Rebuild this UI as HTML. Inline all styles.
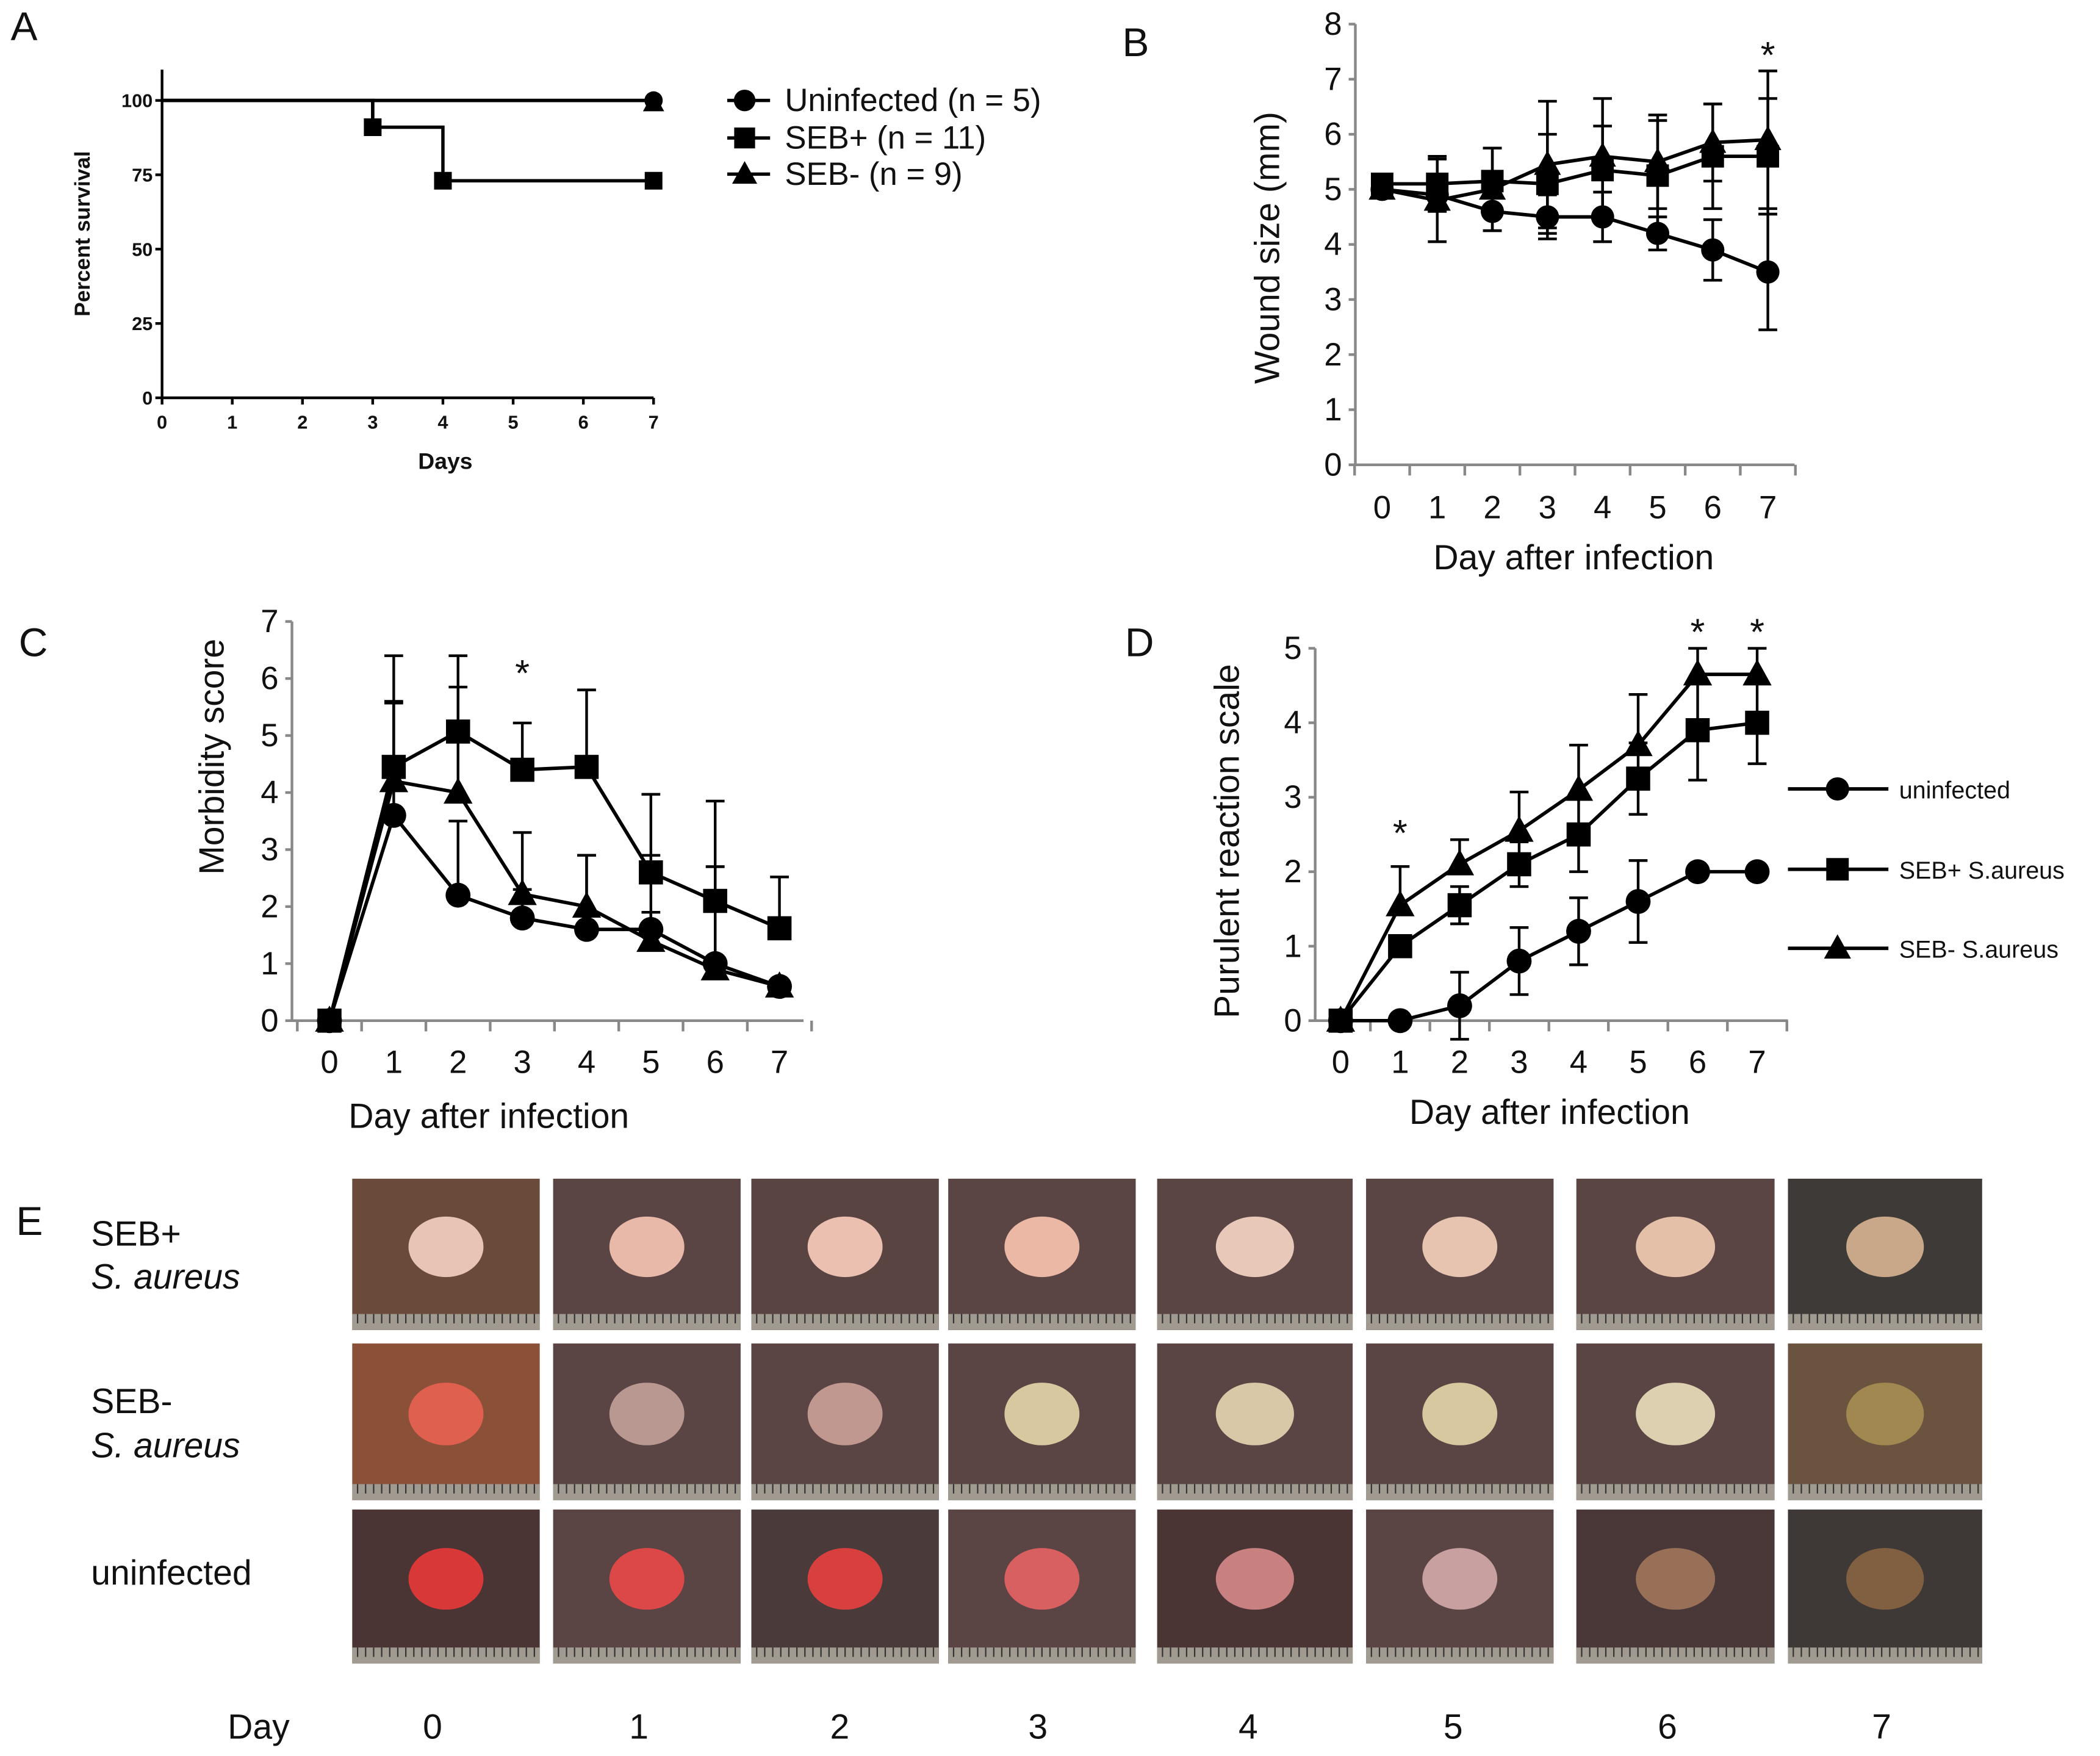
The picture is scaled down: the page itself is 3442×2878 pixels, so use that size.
<!DOCTYPE html>
<html><head><meta charset="utf-8"><style>
html,body{margin:0;padding:0;background:#fff}
svg{display:block}
text{font-family:"Liberation Sans",sans-serif;fill:#111}
</style></head><body>
<svg id="fig" width="3442" height="2878" viewBox="0 0 1568 1311" preserveAspectRatio="none" xmlns="http://www.w3.org/2000/svg">
<text x="8" y="30" font-size="30">A</text>
<text x="838" y="42" font-size="30">B</text>
<text x="14" y="490" font-size="30">C</text>
<text x="840" y="490" font-size="30">D</text>
<text x="12" y="922" font-size="30">E</text>
<g id="gA"></g>
<g id="gB"></g>
<g id="gC"></g>
<g id="gD"></g>
<g id="gE"></g>
</svg>
<script>
// ---- Data ----
const days = [0,1,2,3,4,5,6,7];
// Panel A survival (step curves)
const survDays = [0,3,4,7];
const survSEBplus = [100,91,73,73];
const survUninf = [100,100,100,100];
const survSEBminus = [100,100,100,100];
const survTicksY = [0,25,50,75,100];
// Panel B wound size
const woundUninf = [5.0,4.9,4.6,4.5,4.5,4.2,3.9,3.5];
const woundUninfErr = [0.1,0.3,0.35,0.4,0.45,0.3,0.55,1.05];
const woundSEBplus = [5.1,5.1,5.15,5.1,5.35,5.25,5.6,5.6];
const woundSEBplusErr = [0.1,0.5,0.6,0.9,0.8,1.0,0.95,1.05];
const woundSEBminus = [5.0,4.8,5.0,5.45,5.6,5.5,5.85,5.9];
const woundSEBminusErr = [0.1,0.75,0.75,1.15,1.05,0.85,0.7,1.25];
const woundTicksY = [0,1,2,3,4,5,6,7,8];
// Panel C morbidity
const morbUninf = [0,3.6,2.2,1.8,1.6,1.6,1.0,0.6];
const morbUninfErr = [0,2.0,1.3,0.5,1.3,1.3,1.7,0];
const morbSEBplus = [0,4.45,5.07,4.4,4.45,2.6,2.1,1.62];
const morbSEBplusErr = [0,1.95,1.33,0.82,1.35,1.37,1.75,0.9];
const morbSEBminus = [0,4.2,4.0,2.22,2.0,1.4,0.9,0.6];
const morbSEBminusErr = [0,1.37,1.85,1.08,0.9,0.5,1.8,0];
const morbTicksY = [0,1,2,3,4,5,6,7];
// Panel D purulent
const purUninf = [0,0,0.2,0.8,1.2,1.6,2.0,2.0];
const purUninfErr = [0,0,0.45,0.45,0.45,0.55,0,0];
const purSEBplus = [0,1.0,1.55,2.1,2.5,3.25,3.9,4.0];
const purSEBplusErr = [0,0,0.25,0.3,0.5,0.48,0.67,0.55];
const purSEBminus = [0,1.55,2.1,2.55,3.1,3.7,4.65,4.65];
const purSEBminusErr = [0,0.52,0.33,0.52,0.6,0.68,0.35,0.35];
const purTicksY = [0,1,2,3,4,5];

const NS="http://www.w3.org/2000/svg";
function mk(parent,tag,attrs,txt){const e=document.createElementNS(NS,tag);for(const k in attrs)e.setAttribute(k,attrs[k]);if(txt!==undefined)e.textContent=txt;parent.appendChild(e);return e;}
function marker(g,type,x,y,s){
  let e;
  if(type==='circle'){e=mk(g,'circle',{cx:x,cy:y,r:s*0.62,fill:'#000'});}
  else if(type==='square'){e=mk(g,'rect',{x:x-s*0.6,y:y-s*0.6,width:s*1.2,height:s*1.2,fill:'#000'});}
  else {e=mk(g,'polygon',{points:`${x},${y-s*0.75} ${x-s*0.72},${y+s*0.55} ${x+s*0.72},${y+s*0.55}`,fill:'#000'});}
  return e;
}

// ---- Panel A ----
(function(){
  const g=document.getElementById('gA');
  const x0=121,x7=488,y0=297,y100=75;
  const sx=d=>x0+(x7-x0)*d/7, sy=v=>y0-(y0-y100)*v/100;
  const ax=mk(g,'path',{d:`M${x0},52 V${y0} H${x7}`,stroke:'#000','stroke-width':2,fill:'none'});
  
  
  survTicksY.forEach(v=>{
    mk(g,'line',{x1:x0-5,x2:x0,y1:sy(v),y2:sy(v),stroke:'#000','stroke-width':2});
    const t=mk(g,'text',{x:x0-7,y:sy(v)+5,'font-size':14,'text-anchor':'end','font-weight':'bold'},v);
    
    
  });
  days.forEach(d=>{
    mk(g,'line',{x1:sx(d),x2:sx(d),y1:y0,y2:y0+5,stroke:'#000','stroke-width':2});
    const t=mk(g,'text',{x:sx(d),y:y0+23,'font-size':14,'text-anchor':'middle','font-weight':'bold'},d);
    
    
  });
  const yt=mk(g,'text',{x:0,y:0,'font-size':16,'font-weight':'bold','text-anchor':'middle',transform:`translate(67,${(y0+52)/2}) rotate(-90)`},'Percent survival');
  
  
  const xt=mk(g,'text',{x:(x0+x7)/2+28,y:350,'font-size':17,'font-weight':'bold','text-anchor':'middle'},'Days');
  
  
  function step(vals){let d=`M${sx(survDays[0])},${sy(vals[0])}`;for(let i=1;i<vals.length;i++){d+=` H${sx(survDays[i])} V${sy(vals[i])}`;}return d;}
  const l1=mk(g,'path',{d:step(survUninf),stroke:'#000','stroke-width':2.5,fill:'none'});
  
  
  const l3=mk(g,'path',{d:step(survSEBminus),stroke:'#000','stroke-width':2.5,fill:'none'});
  
  
  const l2=mk(g,'path',{d:step(survSEBplus),stroke:'#000','stroke-width':2.5,fill:'none'});
  
  
  mk(g,'line',{x1:sx(3),x2:sx(3),y1:sy(100),y2:sy(91),stroke:'#000','stroke-width':2.5});
  for(let i=1;i<survDays.length;i++){
    if(survSEBplus[i]!==survSEBplus[i-1]||i===survDays.length-1){const m=marker(g,'square',sx(survDays[i]),sy(survSEBplus[i]),11);}
  }
  const last=survDays.length-1;
  const mt=marker(g,'triangle',sx(survDays[last]),sy(survSEBminus[last])+2,11);
  
  
  const mc=marker(g,'circle',sx(survDays[last]),sy(survUninf[last]),11);
  
  
  const leg=[['circle','Uninfected (n = 5)',75],['square','SEB+ (n = 11)',103],['triangle','SEB- (n = 9)',130]];
  leg.forEach(([m,t,y])=>{
    mk(g,'line',{x1:543,x2:575,y1:y,y2:y,stroke:'#000','stroke-width':2.5});
    marker(g,m,556,y,13);
    const tx=mk(g,'text',{x:586,y:y+8,'font-size':24},t);
    
    
  });
})();

// ---- generic line chart (B, C, D) ----
function lineChart(id,cfg){
  const g=document.getElementById(id);
  const {ax0,axEnd,y0,yTop,ymax,ticks,dx0,dx7,series,axisColor,labelY,ttlX,ttlY,title,xTitleY,xTitleX,fs,tfs,pre}=cfg;
  const sx=d=>dx0+(dx7-dx0)*d/7, sy=v=>y0-(y0-yTop)*v/ymax;
  const a=mk(g,'path',{d:`M${ax0},${sy(ymax)} V${y0} H${axEnd}`,stroke:axisColor,'stroke-width':2,fill:'none'});
  
  
  ticks.forEach(v=>{
    mk(g,'line',{x1:ax0-5,x2:ax0,y1:sy(v),y2:sy(v),stroke:axisColor,'stroke-width':2});
    const t=mk(g,'text',{x:ax0-10,y:sy(v)+8,'font-size':fs,'text-anchor':'end'},v);
    
    
  });
  for(let i=0;i<=8;i++){const x=sx(i-0.5);if(x>=ax0-1)mk(g,'line',{x1:x,x2:x,y1:y0,y2:y0+8,stroke:axisColor,'stroke-width':2});}
  days.forEach(d=>{
    const t=mk(g,'text',{x:sx(d),y:labelY,'font-size':fs,'text-anchor':'middle'},d);
    
    
  });
  const yt=mk(g,'text',{x:0,y:0,'font-size':tfs,'text-anchor':'middle',transform:`translate(${ttlX},${ttlY}) rotate(-90)`},title);
  
  
  const xt=mk(g,'text',{x:xTitleX,y:xTitleY,'font-size':tfs,'text-anchor':'middle'},'Day after infection');
  
  
  series.forEach(s=>{
    s.vals.forEach((v,i)=>{
      const e=s.err[i]; if(!e) return;
      const x=sx(days[i]); const lo=s.both?v-e:v;
      const eb=mk(g,'path',{d:`M${x},${sy(lo)} V${sy(v+e)} M${x-7},${sy(v+e)} H${x+7}`+(s.both?` M${x-7},${sy(v-e)} H${x+7}`:''),stroke:'#000','stroke-width':2,fill:'none'});
      
      
    });
    const p=mk(g,'polyline',{points:s.vals.map((v,i)=>`${sx(days[i])},${sy(v)}`).join(' '),stroke:'#000','stroke-width':2.6,fill:'none'});
    
    
    s.vals.forEach((v,i)=>{
      const m=marker(g,s.m,sx(days[i]),sy(v),cfg.ms);
      
      
    });
  });
  (cfg.stars||[]).forEach(([d,v])=>{
    const t=mk(g,'text',{x:sx(d),y:sy(v)+14,'font-size':28,'text-anchor':'middle'},'*');
    
    
  });
  return {sx,sy};
}

lineChart('gB',{pre:'b',ax0:1012,axEnd:1340,y0:347,yTop:18,ymax:8,ticks:woundTicksY,dx0:1032,dx7:1320,axisColor:'#888',labelY:387,ttlX:955,ttlY:185,title:'Wound size (mm)',xTitleX:1175,xTitleY:425,fs:24,tfs:26,ms:14,
  series:[{name:'uninfected',m:'circle',vals:woundUninf,err:woundUninfErr,both:true},{name:'seb-plus',m:'square',vals:woundSEBplus,err:woundSEBplusErr,both:true},{name:'seb-minus',m:'triangle',vals:woundSEBminus,err:woundSEBminusErr,both:true}],
  stars:[[7,7.55]]});
lineChart('gC',{pre:'c',ax0:218,axEnd:600,y0:762,yTop:464,ymax:7,ticks:morbTicksY,dx0:246,dx7:582,axisColor:'#888',labelY:801,ttlX:167,ttlY:565,title:'Morbidity score',xTitleX:365,xTitleY:842,fs:24,tfs:26,ms:15,
  series:[{name:'uninfected',m:'circle',vals:morbUninf,err:morbUninfErr},{name:'seb-plus',m:'square',vals:morbSEBplus,err:morbSEBplusErr},{name:'seb-minus',m:'triangle',vals:morbSEBminus,err:morbSEBminusErr}],
  stars:[[3,6.2]]});
lineChart('gD',{pre:'d',ax0:982,axEnd:1335,y0:762,yTop:484,ymax:5,ticks:purTicksY,dx0:1001,dx7:1312,axisColor:'#888',labelY:801,ttlX:925,ttlY:628,title:'Purulent reaction scale',xTitleX:1157,xTitleY:839,fs:24,tfs:26,ms:15,
  series:[{name:'uninfected',m:'circle',vals:purUninf,err:purUninfErr,both:true},{name:'seb-plus',m:'square',vals:purSEBplus,err:purSEBplusErr,both:true},{name:'seb-minus',m:'triangle',vals:purSEBminus,err:purSEBminusErr}],
  stars:[[1,2.6],[6,5.3],[7,5.3]]});
(function(){
  const g=document.getElementById('gD');
  [['circle','uninfected',589],['square','SEB+ S.aureus',649],['triangle','SEB- S.aureus',708]].forEach(([m,t,y])=>{
    mk(g,'line',{x1:1335,x2:1410,y1:y,y2:y,stroke:'#000','stroke-width':2.6});
    marker(g,m,1372,y,14);
    const tx=mk(g,'text',{x:1418,y:y+7,'font-size':18},t);
    
    
  });
})();

// ---- Panel E photos ----
(function(){
  const g=document.getElementById('gE');
  const cols=[[263,403],[413,553],[561,701],[708,848],[864,1010],[1020,1160],[1177,1325],[1335,1480]];
  const rows=[[880,993],[1003,1120],[1127,1242]];
  const woundCol=[['#e8c4b4','#e8b8a8','#ecc0b0','#eab8a4','#e8c8b8','#e6c4b0','#e4c0a8','#c8a888'],
                  ['#e06050','#b89890','#c09890','#d8c8a0','#d8c8a8','#d8c8a0','#dcd0b0','#a08850'],
                  ['#d83838','#dc4848','#d84040','#d86060','#c88080','#c8a0a0','#987058','#806040']];
  const bg=[['#6a4a3a','#5a4444','#5a4442','#5a4444','#5a4444','#5a4444','#5a4444','#3e3a38'],
            ['#8a5038','#5a4444','#5a4444','#5a4444','#5a4444','#5a4444','#5a4444','#6a5440'],
            ['#4a3434','#5a4444','#4a3a3a','#5a4444','#4a3434','#5a4444','#4a3838','#3e3836']];
  rows.forEach((r,ri)=>cols.forEach((c,ci)=>{
    const w=c[1]-c[0],h=r[1]-r[0];
    const rect=mk(g,'rect',{x:c[0],y:r[0],width:w,height:h,fill:bg[ri][ci]});
    
    
    mk(g,'ellipse',{cx:c[0]+w*0.5,cy:r[0]+h*0.45,rx:w*0.2,ry:h*0.2,fill:woundCol[ri][ci]});
    mk(g,'rect',{x:c[0],y:r[1]-12,width:w,height:12,fill:'#a09a90'});
    for(let k=4;k<w;k+=6)mk(g,'line',{x1:c[0]+k,x2:c[0]+k,y1:r[1]-12,y2:r[1]-5,stroke:'#333','stroke-width':1});
  }));
  const labs=[['SEB+',930],['S. aureus',962,true],['SEB-',1055],['S. aureus',1088,true],['uninfected',1183]];
  labs.forEach(([t,y,it])=>{
    const tx=mk(g,'text',{x:68,y:y,'font-size':26,'font-style':it?'italic':'normal'},t);
    
    
  });
  const dl=mk(g,'text',{x:170,y:1298,'font-size':26},'Day');
  
  
  [323,477,627,775,932,1085,1245,1405].forEach((x,i)=>{
    const tx=mk(g,'text',{x:x,y:1298,'font-size':26,'text-anchor':'middle'},days[i]);
    
    
  });
})();
</script>
</body></html>
